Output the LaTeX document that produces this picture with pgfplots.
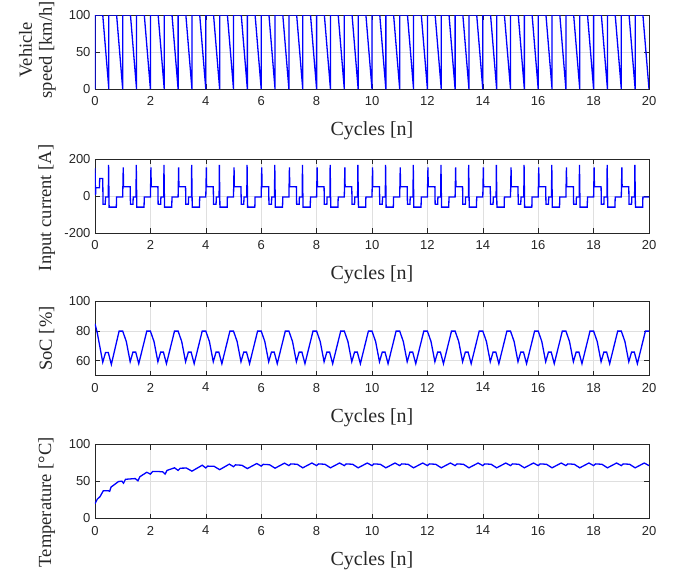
\documentclass[border=0pt]{standalone}
\usepackage{fontspec}
\setmainfont{Liberation Serif}
\newfontfamily\arial{Liberation Sans}
\usepackage{pgfplots}
\pgfplotsset{compat=1.18}
\definecolor{axgray}{RGB}{38,38,38}
\definecolor{gridgray}{RGB}{223,223,223}
\pgfplotsset{panel/.style={
  scale only axis, width=554pt, height=74pt,
  xmin=0, xmax=20, xtick={0,2,...,20},
  no markers,
  grid=major, major grid style={gridgray, line width=0.6pt},
  axis line style={axgray, line width=0.6pt},
  tick style={axgray, line width=0.6pt}, major tick length=5pt,
  tick label style={font=\arial\fontsize{13}{15}\selectfont, text=axgray},
  xticklabel style={yshift=-4pt},
  yticklabel style={xshift=-1pt},
  /pgf/number format/assume math mode=true,
  xlabel style={font=\fontsize{20}{21}\selectfont, text=axgray},
  ylabel style={font=\fontsize{18.5}{20}\selectfont, text=axgray},
  xlabel={Cycles [n]},
  xlabel style={at={(axis description cs:0.5,-0.57)}, anchor=center},
  ylabel style={at={(axis description cs:-0.087,0.5)}, anchor=center, align=center},
}}
\begin{document}
\begin{tikzpicture}
\begin{axis}[panel, at={(0pt,0pt)}, anchor=north west,
  ymin=0, ymax=100, ytick={0,50,100},
  ylabel={Vehicle\\speed [km/h]},
  ylabel style={at={(axis description cs:-0.104,0.53)}}]
\addplot[blue, line width=1.3pt] coordinates {
(0,0)(0,100)(0.28,100)(0.5,0)(0.5,100)(0.78,100)
(1,0)(1,100)(1.28,100)(1.5,0)(1.5,100)(1.78,100)
(2,0)(2,100)(2.28,100)(2.5,0)(2.5,100)(2.78,100)
(3,0)(3,100)(3.28,100)(3.5,0)(3.5,100)(3.78,100)
(4,0)(4,100)(4.28,100)(4.5,0)(4.5,100)(4.78,100)
(5,0)(5,100)(5.28,100)(5.5,0)(5.5,100)(5.78,100)
(6,0)(6,100)(6.28,100)(6.5,0)(6.5,100)(6.78,100)
(7,0)(7,100)(7.28,100)(7.5,0)(7.5,100)(7.78,100)
(8,0)(8,100)(8.28,100)(8.5,0)(8.5,100)(8.78,100)
(9,0)(9,100)(9.28,100)(9.5,0)(9.5,100)(9.78,100)
(10,0)(10,100)(10.28,100)(10.5,0)(10.5,100)(10.78,100)
(11,0)(11,100)(11.28,100)(11.5,0)(11.5,100)(11.78,100)
(12,0)(12,100)(12.28,100)(12.5,0)(12.5,100)(12.78,100)
(13,0)(13,100)(13.28,100)(13.5,0)(13.5,100)(13.78,100)
(14,0)(14,100)(14.28,100)(14.5,0)(14.5,100)(14.78,100)
(15,0)(15,100)(15.28,100)(15.5,0)(15.5,100)(15.78,100)
(16,0)(16,100)(16.28,100)(16.5,0)(16.5,100)(16.78,100)
(17,0)(17,100)(17.28,100)(17.5,0)(17.5,100)(17.78,100)
(18,0)(18,100)(18.28,100)(18.5,0)(18.5,100)(18.78,100)
(19,0)(19,100)(19.28,100)(19.5,0)(19.5,100)(19.78,100)
(20,0)};
\end{axis}

\begin{axis}[panel, at={(0pt,-144pt)}, anchor=north west,
  ymin=-200, ymax=200, ytick={-200,0,200},
  ylabel={Input current [A]},
  ylabel style={at={(axis description cs:-0.087,0.34)}}]
\addplot[blue, line width=1.3pt] coordinates {
(0,150)(0.02,5)(0.03,45)(0.16,45)(0.17,95)(0.28,95)(0.29,-45)(0.37,-45)(0.38,-5)(0.48,-5)(0.49,168)(0.51,-60)(0.77,-60)(0.78,-5)
(1,-5)(1.02,155)(1.03,50)(1.27,50)(1.28,-45)(1.37,-45)(1.38,-5)(1.48,-5)(1.49,168)(1.51,-60)(1.77,-60)(1.78,-5)
(2,-5)(2.02,155)(2.03,50)(2.27,50)(2.28,-45)(2.37,-45)(2.38,-5)(2.48,-5)(2.49,168)(2.51,-60)(2.77,-60)(2.78,-5)
(3,-5)(3.02,155)(3.03,50)(3.27,50)(3.28,-45)(3.37,-45)(3.38,-5)(3.48,-5)(3.49,168)(3.51,-60)(3.77,-60)(3.78,-5)
(4,-5)(4.02,155)(4.03,50)(4.27,50)(4.28,-45)(4.37,-45)(4.38,-5)(4.48,-5)(4.49,168)(4.51,-60)(4.77,-60)(4.78,-5)
(5,-5)(5.02,155)(5.03,50)(5.27,50)(5.28,-45)(5.37,-45)(5.38,-5)(5.48,-5)(5.49,168)(5.51,-60)(5.77,-60)(5.78,-5)
(6,-5)(6.02,155)(6.03,50)(6.27,50)(6.28,-45)(6.37,-45)(6.38,-5)(6.48,-5)(6.49,168)(6.51,-60)(6.77,-60)(6.78,-5)
(7,-5)(7.02,155)(7.03,50)(7.27,50)(7.28,-45)(7.37,-45)(7.38,-5)(7.48,-5)(7.49,168)(7.51,-60)(7.77,-60)(7.78,-5)
(8,-5)(8.02,155)(8.03,50)(8.27,50)(8.28,-45)(8.37,-45)(8.38,-5)(8.48,-5)(8.49,168)(8.51,-60)(8.77,-60)(8.78,-5)
(9,-5)(9.02,155)(9.03,50)(9.27,50)(9.28,-45)(9.37,-45)(9.38,-5)(9.48,-5)(9.49,168)(9.51,-60)(9.77,-60)(9.78,-5)
(10,-5)(10.02,155)(10.03,50)(10.27,50)(10.28,-45)(10.37,-45)(10.38,-5)(10.48,-5)(10.49,168)(10.51,-60)(10.77,-60)(10.78,-5)
(11,-5)(11.02,155)(11.03,50)(11.27,50)(11.28,-45)(11.37,-45)(11.38,-5)(11.48,-5)(11.49,168)(11.51,-60)(11.77,-60)(11.78,-5)
(12,-5)(12.02,155)(12.03,50)(12.27,50)(12.28,-45)(12.37,-45)(12.38,-5)(12.48,-5)(12.49,168)(12.51,-60)(12.77,-60)(12.78,-5)
(13,-5)(13.02,155)(13.03,50)(13.27,50)(13.28,-45)(13.37,-45)(13.38,-5)(13.48,-5)(13.49,168)(13.51,-60)(13.77,-60)(13.78,-5)
(14,-5)(14.02,155)(14.03,50)(14.27,50)(14.28,-45)(14.37,-45)(14.38,-5)(14.48,-5)(14.49,168)(14.51,-60)(14.77,-60)(14.78,-5)
(15,-5)(15.02,155)(15.03,50)(15.27,50)(15.28,-45)(15.37,-45)(15.38,-5)(15.48,-5)(15.49,168)(15.51,-60)(15.77,-60)(15.78,-5)
(16,-5)(16.02,155)(16.03,50)(16.27,50)(16.28,-45)(16.37,-45)(16.38,-5)(16.48,-5)(16.49,168)(16.51,-60)(16.77,-60)(16.78,-5)
(17,-5)(17.02,155)(17.03,50)(17.27,50)(17.28,-45)(17.37,-45)(17.38,-5)(17.48,-5)(17.49,168)(17.51,-60)(17.77,-60)(17.78,-5)
(18,-5)(18.02,155)(18.03,50)(18.27,50)(18.28,-45)(18.37,-45)(18.38,-5)(18.48,-5)(18.49,168)(18.51,-60)(18.77,-60)(18.78,-5)
(19,-5)(19.02,155)(19.03,50)(19.27,50)(19.28,-45)(19.37,-45)(19.38,-5)(19.48,-5)(19.49,168)(19.51,-60)(19.77,-60)(19.78,-5)
(20,-5)};
\end{axis}

\begin{axis}[panel, at={(0pt,-286.5pt)}, anchor=north west,
  ymin=50, ymax=100, ytick={60,80,100},
  ylabel={SoC [\%]}]
\addplot[blue, line width=1.3pt] coordinates {
(0,85)(0.085,78.5)(0.28,59)(0.38,65.5)(0.48,65.5)(0.59,57.5)(0.87,80)
(1,80)(1.13,73)(1.27,59.3)(1.37,65.8)(1.47,65.8)(1.58,58)(1.87,80)
(2,80)(2.13,73)(2.27,59.3)(2.37,65.8)(2.47,65.8)(2.58,58)(2.87,80)
(3,80)(3.13,73)(3.27,59.3)(3.37,65.8)(3.47,65.8)(3.58,58)(3.87,80)
(4,80)(4.13,73)(4.27,59.3)(4.37,65.8)(4.47,65.8)(4.58,58)(4.87,80)
(5,80)(5.13,73)(5.27,59.3)(5.37,65.8)(5.47,65.8)(5.58,58)(5.87,80)
(6,80)(6.13,73)(6.27,59.3)(6.37,65.8)(6.47,65.8)(6.58,58)(6.87,80)
(7,80)(7.13,73)(7.27,59.3)(7.37,65.8)(7.47,65.8)(7.58,58)(7.87,80)
(8,80)(8.13,73)(8.27,59.3)(8.37,65.8)(8.47,65.8)(8.58,58)(8.87,80)
(9,80)(9.13,73)(9.27,59.3)(9.37,65.8)(9.47,65.8)(9.58,58)(9.87,80)
(10,80)(10.13,73)(10.27,59.3)(10.37,65.8)(10.47,65.8)(10.58,58)(10.87,80)
(11,80)(11.13,73)(11.27,59.3)(11.37,65.8)(11.47,65.8)(11.58,58)(11.87,80)
(12,80)(12.13,73)(12.27,59.3)(12.37,65.8)(12.47,65.8)(12.58,58)(12.87,80)
(13,80)(13.13,73)(13.27,59.3)(13.37,65.8)(13.47,65.8)(13.58,58)(13.87,80)
(14,80)(14.13,73)(14.27,59.3)(14.37,65.8)(14.47,65.8)(14.58,58)(14.87,80)
(15,80)(15.13,73)(15.27,59.3)(15.37,65.8)(15.47,65.8)(15.58,58)(15.87,80)
(16,80)(16.13,73)(16.27,59.3)(16.37,65.8)(16.47,65.8)(16.58,58)(16.87,80)
(17,80)(17.13,73)(17.27,59.3)(17.37,65.8)(17.47,65.8)(17.58,58)(17.87,80)
(18,80)(18.13,73)(18.27,59.3)(18.37,65.8)(18.47,65.8)(18.58,58)(18.87,80)
(19,80)(19.13,73)(19.27,59.3)(19.37,65.8)(19.47,65.8)(19.58,58)(19.87,80)
(20,80)};
\end{axis}

\begin{axis}[panel, at={(0pt,-429.5pt)}, anchor=north west,
  ymin=0, ymax=100, ytick={0,50,100},
  ylabel={Temperature [\textdegree C]},
  ylabel style={at={(axis description cs:-0.087,0.22)}}]
\addplot[blue, line width=1.3pt] coordinates {
(0,20)(0.08,26)(0.18,29.5)(0.3,37.5)(0.48,37.5)(0.53,36.8)(0.58,42.5)(0.85,50)(0.97,50.5)
(1.03,47.7)(1.1,53)(1.45,54)(1.55,51)(1.62,56.5)(1.87,62.5)
(2,60)(2.08,63.5)(2.3,63.5)(2.45,63)(2.53,60)(2.6,65)(2.87,68.5)
(3,65)(3.08,68)(3.3,68.2)(3.5,64)(3.87,72)
(4,68.3)(4.07,70.8)(4.3,70.5)(4.5,66)(4.85,73.5)
(5,70)(5.07,72.5)(5.3,72)(5.5,67.5)(5.84,74.3)
(6,70.8)(6.07,73.2)(6.3,72.7)(6.5,68)(6.84,74.8)
(7,71.5)(7.07,73.8)(7.3,73.3)(7.5,68.5)(7.83,75)
(8,71.5)(8.07,73.8)(8.3,73.3)(8.5,68.5)(8.83,75)
(9,71.5)(9.07,73.8)(9.3,73.3)(9.5,68.5)(9.83,75)
(10,71.5)(10.07,73.8)(10.3,73.3)(10.5,68.5)(10.83,75)
(11,71.5)(11.07,73.8)(11.3,73.3)(11.5,68.5)(11.83,75)
(12,71.5)(12.07,73.8)(12.3,73.3)(12.5,68.5)(12.83,75)
(13,71.5)(13.07,73.8)(13.3,73.3)(13.5,68.5)(13.83,75)
(14,71.5)(14.07,73.8)(14.3,73.3)(14.5,68.5)(14.83,75)
(15,71.5)(15.07,73.8)(15.3,73.3)(15.5,68.5)(15.83,75)
(16,71.5)(16.07,73.8)(16.3,73.3)(16.5,68.5)(16.83,75)
(17,71.5)(17.07,73.8)(17.3,73.3)(17.5,68.5)(17.83,75)
(18,71.5)(18.07,73.8)(18.3,73.3)(18.5,68.5)(18.83,75)
(19,71.5)(19.07,73.8)(19.3,73.3)(19.5,68.5)(19.83,75)
(20,71.5)};
\end{axis}
\pgfresetboundingbox
\path (-95pt,15pt) rectangle (589pt,-559pt);
\end{tikzpicture}
\end{document}
